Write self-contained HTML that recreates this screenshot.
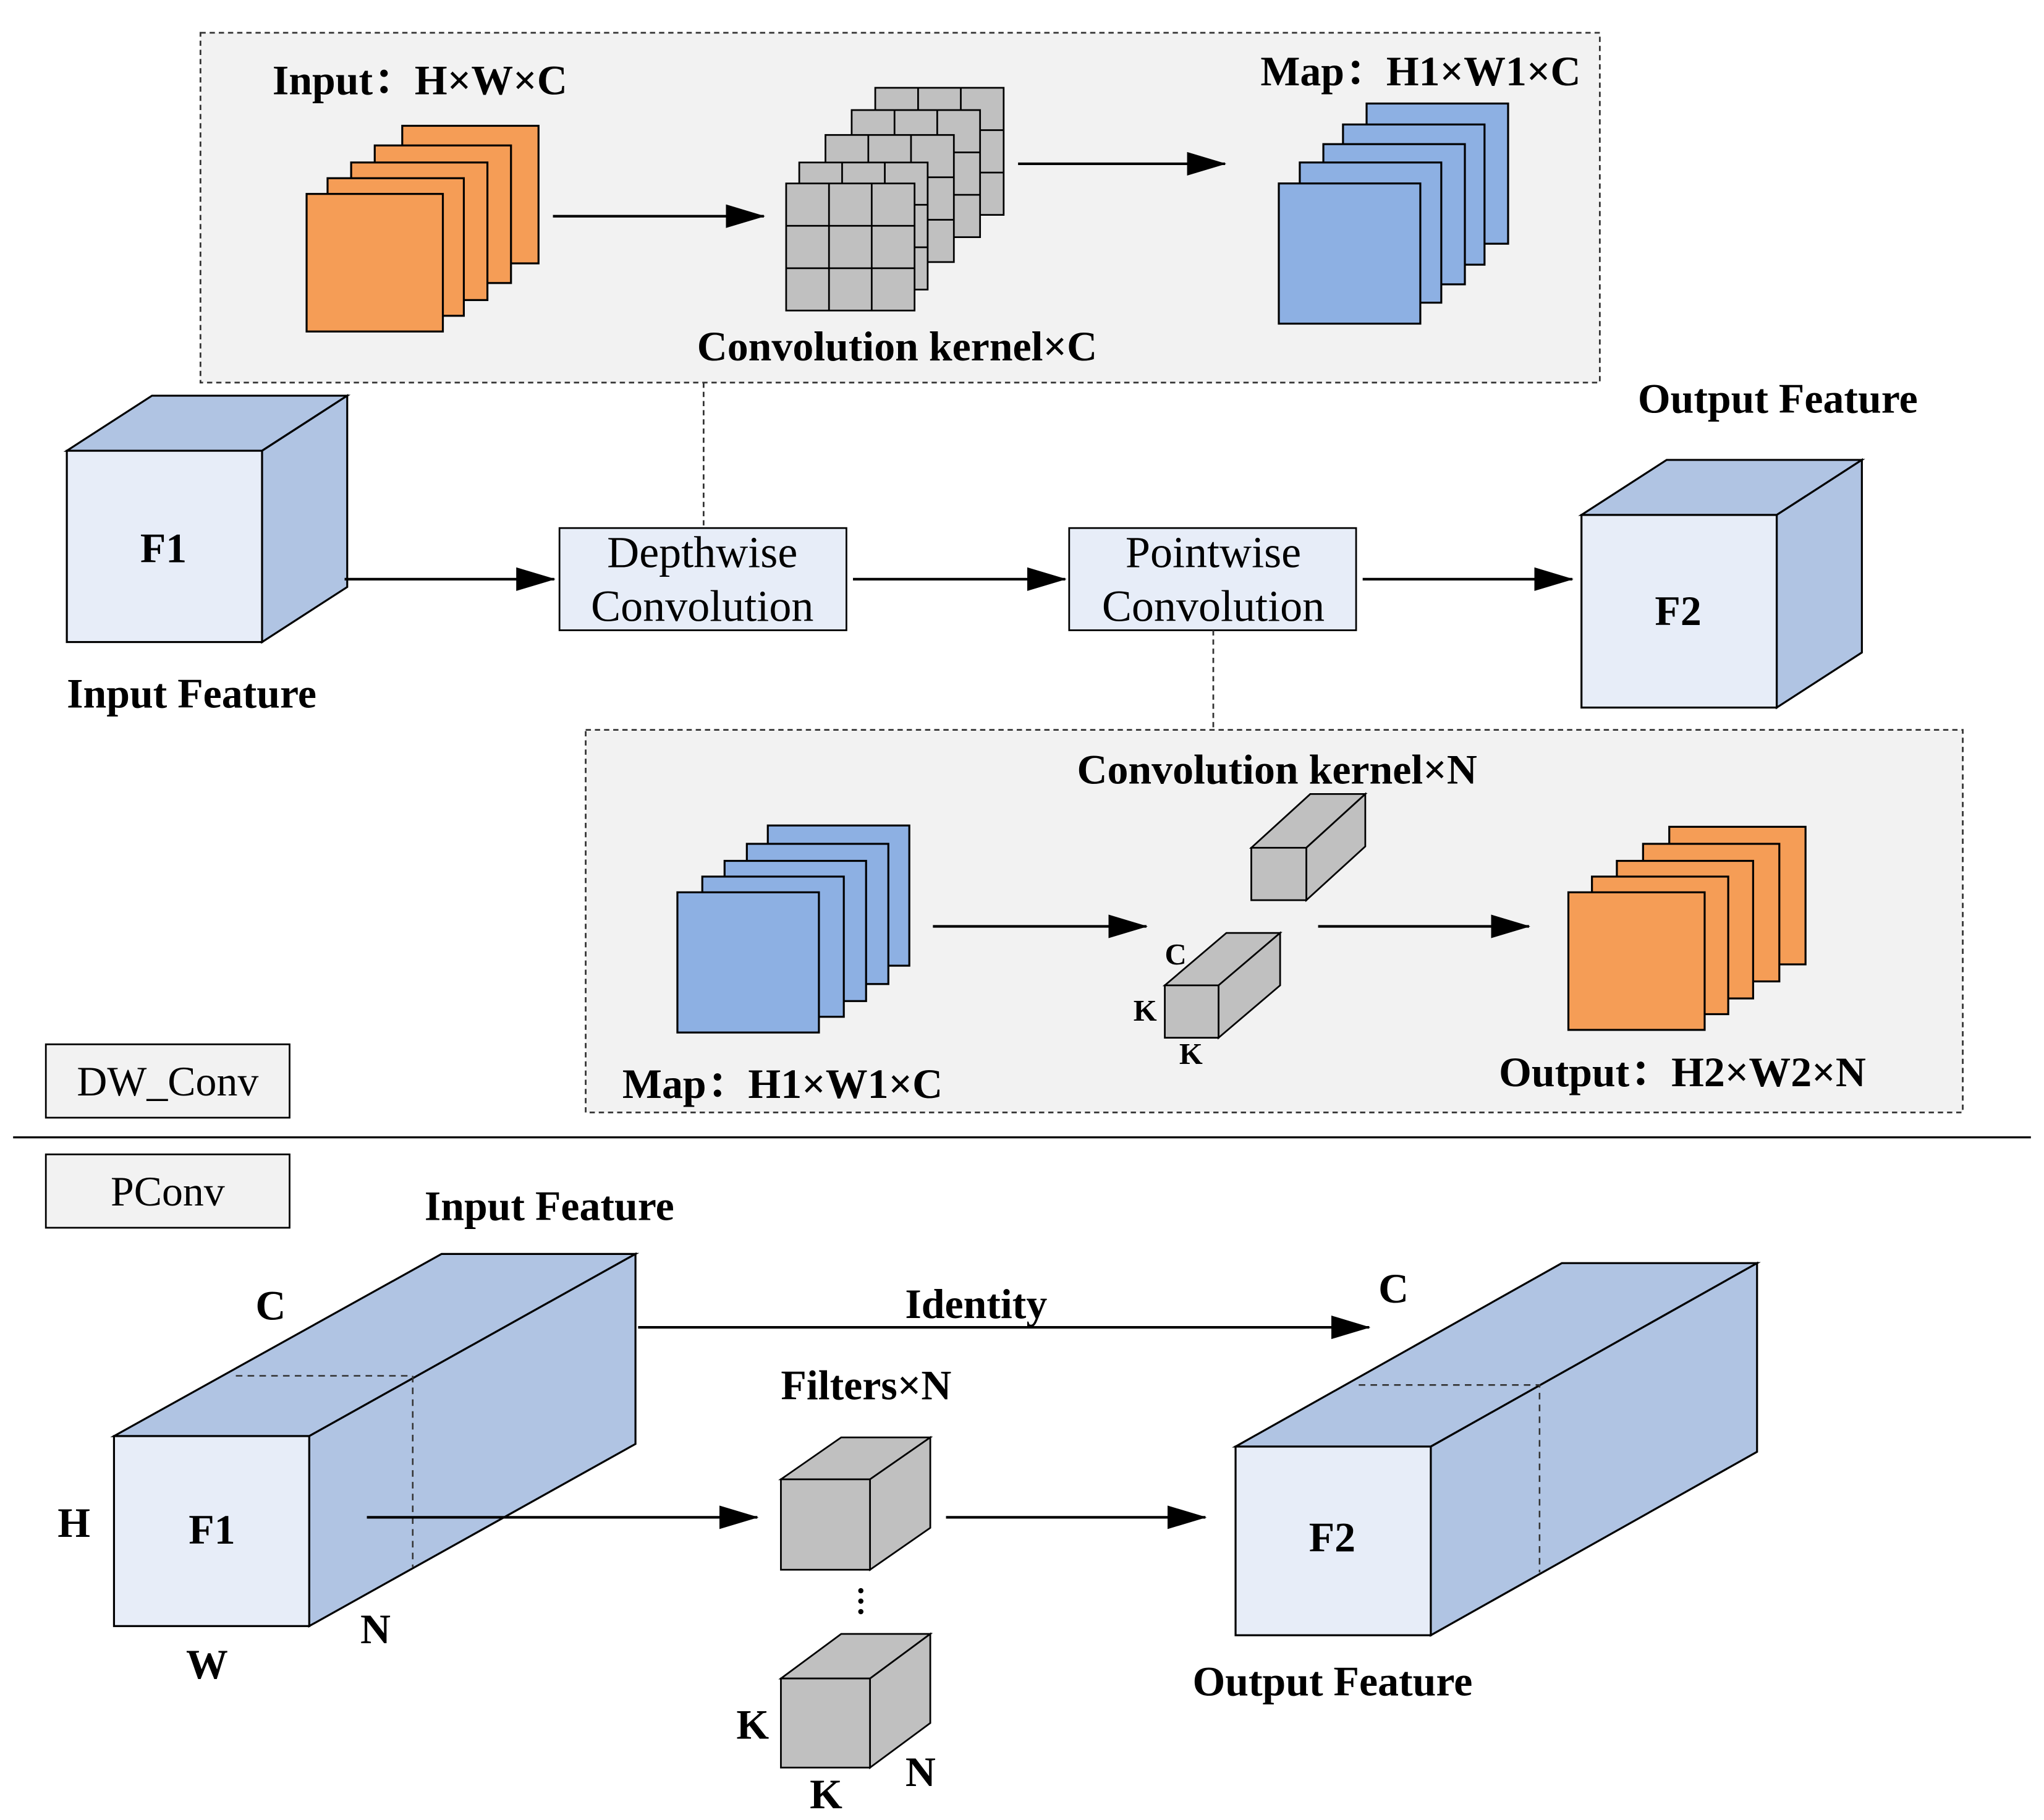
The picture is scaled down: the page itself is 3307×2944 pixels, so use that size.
<!DOCTYPE html>
<html><head><meta charset="utf-8"><style>
html,body{margin:0;padding:0;background:#fff;}
svg{display:block;}
.b{font-family:"Liberation Serif","Noto Serif CJK SC",serif;font-weight:bold;font-size:32px;fill:#000;}
.r{font-family:"Liberation Serif","Noto Serif CJK SC",serif;font-size:34px;fill:#000;}
.s{font-family:"Liberation Serif",serif;font-weight:bold;font-size:23px;fill:#000;}
</style></head><body>
<svg width="3307" height="2944" viewBox="0 0 1560 1389" preserveAspectRatio="none" xmlns="http://www.w3.org/2000/svg">
<defs>
<marker id="a" markerWidth="30" markerHeight="18" refX="29" refY="9" orient="auto" markerUnits="userSpaceOnUse">
<path d="M0,0 L30,9 L0,18 Z" fill="#000"/></marker>
<g id="og"><rect width="104" height="105" fill="#F59D56" stroke="#000" stroke-width="1.5"/></g>
<g id="bl"><rect width="108" height="107" fill="#8DB0E3" stroke="#000" stroke-width="1.5"/></g>
<g id="gr"><rect width="98" height="97" fill="#C0C0C0" stroke="#000" stroke-width="1.3"/>
<path d="M32.7,0V97M65.3,0V97M0,32.3H98M0,64.7H98" stroke="#000" stroke-width="1.3"/></g>
</defs>
<rect width="1560" height="1389" fill="#fff"/>

<rect x="153" y="25" width="1068" height="267" fill="#F2F2F2" stroke="#333" stroke-width="1.3" stroke-dasharray="4,3"/>
<text class="b" x="208" y="72">Input：H×W×C</text>
<use href="#og" x="307" y="96"/><use href="#og" x="286" y="111"/><use href="#og" x="268" y="124"/><use href="#og" x="250" y="136"/><use href="#og" x="234" y="148"/>
<line x1="422" y1="165" x2="583" y2="165" stroke="#000" stroke-width="2" marker-end="url(#a)"/>
<use href="#gr" x="668" y="67"/><use href="#gr" x="650" y="84"/><use href="#gr" x="630" y="103"/><use href="#gr" x="610" y="124"/><use href="#gr" x="600" y="140"/>
<text class="b" x="532" y="275">Convolution kernel×C</text>
<line x1="777" y1="125" x2="935" y2="125" stroke="#000" stroke-width="2" marker-end="url(#a)"/>
<use href="#bl" x="1043" y="79"/><use href="#bl" x="1025" y="95"/><use href="#bl" x="1010" y="110"/><use href="#bl" x="992" y="124"/><use href="#bl" x="976" y="140"/>
<text class="b" x="962" y="65">Map：H1×W1×C</text>

<line x1="537" y1="292" x2="537" y2="403" stroke="#333" stroke-width="1.3" stroke-dasharray="4,3"/>

<polygon points="51,344 200,344 265,302 116,302" fill="#B0C4E3" stroke="#000" stroke-width="1.5"/>
<polygon points="200,344 265,302 265,448 200,490" fill="#B0C4E3" stroke="#000" stroke-width="1.5"/>
<rect x="51" y="344" width="149" height="146" fill="#E7EDF8" stroke="#000" stroke-width="1.5"/>
<text class="b" x="107" y="429">F1</text>
<text class="b" x="51" y="540">Input Feature</text>
<line x1="263" y1="442" x2="423" y2="442" stroke="#000" stroke-width="2" marker-end="url(#a)"/>
<rect x="427" y="403" width="219" height="78" fill="#E7EDF8" stroke="#000" stroke-width="1.3"/>
<text class="r" x="536" y="433" text-anchor="middle">Depthwise</text>
<text class="r" x="536" y="474" text-anchor="middle">Convolution</text>
<line x1="651" y1="442" x2="813" y2="442" stroke="#000" stroke-width="2" marker-end="url(#a)"/>
<rect x="816" y="403" width="219" height="78" fill="#E7EDF8" stroke="#000" stroke-width="1.3"/>
<text class="r" x="926" y="433" text-anchor="middle">Pointwise</text>
<text class="r" x="926" y="474" text-anchor="middle">Convolution</text>
<line x1="1040" y1="442" x2="1200" y2="442" stroke="#000" stroke-width="2" marker-end="url(#a)"/>
<polygon points="1207,393 1356,393 1421,351 1272,351" fill="#B0C4E3" stroke="#000" stroke-width="1.5"/>
<polygon points="1356,393 1421,351 1421,498 1356,540" fill="#B0C4E3" stroke="#000" stroke-width="1.5"/>
<rect x="1207" y="393" width="149" height="147" fill="#E7EDF8" stroke="#000" stroke-width="1.5"/>
<text class="b" x="1263" y="477">F2</text>
<text class="b" x="1250" y="315">Output Feature</text>

<line x1="926" y1="481" x2="926" y2="557" stroke="#333" stroke-width="1.3" stroke-dasharray="4,3"/>

<rect x="447" y="557" width="1051" height="292" fill="#F2F2F2" stroke="#333" stroke-width="1.3" stroke-dasharray="4,3"/>
<text class="b" x="822" y="598">Convolution kernel×N</text>
<use href="#bl" x="586" y="630"/>
<use href="#bl" x="570" y="644"/><use href="#bl" x="553" y="657"/><use href="#bl" x="536" y="669"/><use href="#bl" x="517" y="681"/>
<line x1="712" y1="707" x2="875" y2="707" stroke="#000" stroke-width="2" marker-end="url(#a)"/>
<polygon points="955,647 997,647 1042,606 1000,606" fill="#C0C0C0" stroke="#000" stroke-width="1.3"/>
<polygon points="997,647 1042,606 1042,646 997,687" fill="#C0C0C0" stroke="#000" stroke-width="1.3"/>
<rect x="955" y="647" width="42" height="40" fill="#C0C0C0" stroke="#000" stroke-width="1.3"/>
<polygon points="889,752 930,752 977,712 936,712" fill="#C0C0C0" stroke="#000" stroke-width="1.3"/>
<polygon points="930,752 977,712 977,752 930,792" fill="#C0C0C0" stroke="#000" stroke-width="1.3"/>
<rect x="889" y="752" width="41" height="40" fill="#C0C0C0" stroke="#000" stroke-width="1.3"/>
<text class="s" x="889" y="736">C</text>
<text class="s" x="865" y="779">K</text>
<text class="s" x="900" y="812">K</text>
<line x1="1006" y1="707" x2="1167" y2="707" stroke="#000" stroke-width="2" marker-end="url(#a)"/>
<use href="#og" x="1274" y="631"/><use href="#og" x="1254" y="644"/><use href="#og" x="1234" y="657"/><use href="#og" x="1215" y="669"/><use href="#og" x="1197" y="681"/>
<text class="b" x="475" y="838">Map：H1×W1×C</text>
<text class="b" x="1144" y="829">Output：H2×W2×N</text>

<rect x="35" y="797" width="186" height="56" fill="#F2F2F2" stroke="#000" stroke-width="1.3"/>
<text class="r" x="128" y="836" text-anchor="middle" style="font-size:32px">DW_Conv</text>
<line x1="10" y1="868" x2="1550" y2="868" stroke="#000" stroke-width="1.5"/>
<rect x="35" y="881" width="186" height="56" fill="#F2F2F2" stroke="#000" stroke-width="1.3"/>
<text class="r" x="128" y="920" text-anchor="middle" style="font-size:32px">PConv</text>

<text class="b" x="324" y="931">Input Feature</text>
<polygon points="87,1096 236,1096 485,957 337,957" fill="#B0C4E3" stroke="#000" stroke-width="1.5"/>
<polygon points="236,1096 485,957 485,1102 236,1241" fill="#B0C4E3" stroke="#000" stroke-width="1.5"/>
<rect x="87" y="1096" width="149" height="145" fill="#E7EDF8" stroke="#000" stroke-width="1.5"/>
<path d="M180,1050H315V1196" fill="none" stroke="#333" stroke-width="1.2" stroke-dasharray="5,4"/>
<text class="b" x="144" y="1178">F1</text>
<text class="b" x="195" y="1007">C</text>
<text class="b" x="44" y="1173">H</text>
<text class="b" x="142" y="1281">W</text>
<text class="b" x="275" y="1254">N</text>
<line x1="487" y1="1013" x2="1045" y2="1013" stroke="#000" stroke-width="2" marker-end="url(#a)"/>
<text class="b" x="745" y="1006" text-anchor="middle">Identity</text>
<line x1="280" y1="1158" x2="578" y2="1158" stroke="#000" stroke-width="2" marker-end="url(#a)"/>
<text class="b" x="596" y="1068">Filters×N</text>
<polygon points="596,1129 664,1129 710,1097 642,1097" fill="#C0C0C0" stroke="#000" stroke-width="1.3"/>
<polygon points="664,1129 710,1097 710,1166 664,1198" fill="#C0C0C0" stroke="#000" stroke-width="1.3"/>
<rect x="596" y="1129" width="68" height="69" fill="#C0C0C0" stroke="#000" stroke-width="1.3"/>
<circle cx="657" cy="1214" r="2" fill="#000"/><circle cx="657" cy="1222" r="2" fill="#000"/><circle cx="657" cy="1230" r="2" fill="#000"/>
<polygon points="596,1281 664,1281 710,1247 642,1247" fill="#C0C0C0" stroke="#000" stroke-width="1.3"/>
<polygon points="664,1281 710,1247 710,1315 664,1349" fill="#C0C0C0" stroke="#000" stroke-width="1.3"/>
<rect x="596" y="1281" width="68" height="68" fill="#C0C0C0" stroke="#000" stroke-width="1.3"/>
<text class="b" x="562" y="1327">K</text>
<text class="b" x="618" y="1380">K</text>
<text class="b" x="691" y="1363">N</text>
<line x1="722" y1="1158" x2="920" y2="1158" stroke="#000" stroke-width="2" marker-end="url(#a)"/>
<polygon points="943,1104 1092,1104 1341,964 1192,964" fill="#B0C4E3" stroke="#000" stroke-width="1.5"/>
<polygon points="1092,1104 1341,964 1341,1108 1092,1248" fill="#B0C4E3" stroke="#000" stroke-width="1.5"/>
<rect x="943" y="1104" width="149" height="144" fill="#E7EDF8" stroke="#000" stroke-width="1.5"/>
<path d="M1037,1057H1175V1200" fill="none" stroke="#333" stroke-width="1.2" stroke-dasharray="5,4"/>
<text class="b" x="999" y="1184">F2</text>
<text class="b" x="1052" y="994">C</text>
<text class="b" x="1017" y="1294" text-anchor="middle">Output Feature</text>
</svg>
</body></html>
